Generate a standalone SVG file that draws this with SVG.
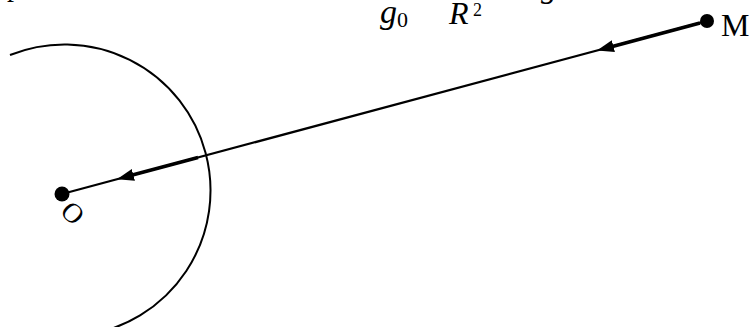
<svg xmlns="http://www.w3.org/2000/svg" width="750" height="327" viewBox="0 0 750 327">
<style>
.t{font-family:"Liberation Serif","Times New Roman",serif;fill:#000}
.i{font-style:italic}
.ln{fill:none;stroke:#000;stroke-linecap:butt}
</style>
<defs>
<marker id="ah" viewBox="0 0 17 12" refX="1" refY="6" markerWidth="17" markerHeight="12" markerUnits="userSpaceOnUse" orient="auto">
<path d="M0,0 L17,6 L0,12 z" fill="#000"/>
</marker>
</defs>
<rect width="750" height="327" fill="#fff"/>
<g id="earth">
<path class="ln" stroke-width="2" d="M 10 55 A 146 146 0 1 1 85 335"/>
</g>
<g id="formula">
<text class="t" x="7" y="-4" font-size="28">p</text>
<text class="t i" x="380" y="23" font-size="34">g</text>
<text class="t" x="397" y="27" font-size="22">0</text>
<text class="t i" x="449" y="24" font-size="32">R</text>
<text class="t" x="473" y="16" font-size="18">2</text>
<text class="t i" x="541" y="-3" font-size="32">g</text>
</g>
<g id="connectors">
<path class="ln" stroke-width="2.2" d="M 707 21 L 62 194"/>
<path class="ln" stroke-width="3.6" d="M 700 22.9 L 612.4 46.4" marker-end="url(#ah)"/>
<path class="ln" stroke-width="3.6" d="M 198 157.5 L 132.4 175.1" marker-end="url(#ah)"/>
</g>
<g id="node-M">
<circle cx="707" cy="21" r="7" fill="#000"/>
<text class="t" x="721" y="36" font-size="32">M</text>
</g>
<g id="node-O">
<circle cx="62" cy="194" r="7.5" fill="#000"/>
<text class="t" x="73" y="213" font-size="28" text-anchor="middle" dominant-baseline="central" transform="rotate(45 73 213)">O</text>
</g>
</svg>
